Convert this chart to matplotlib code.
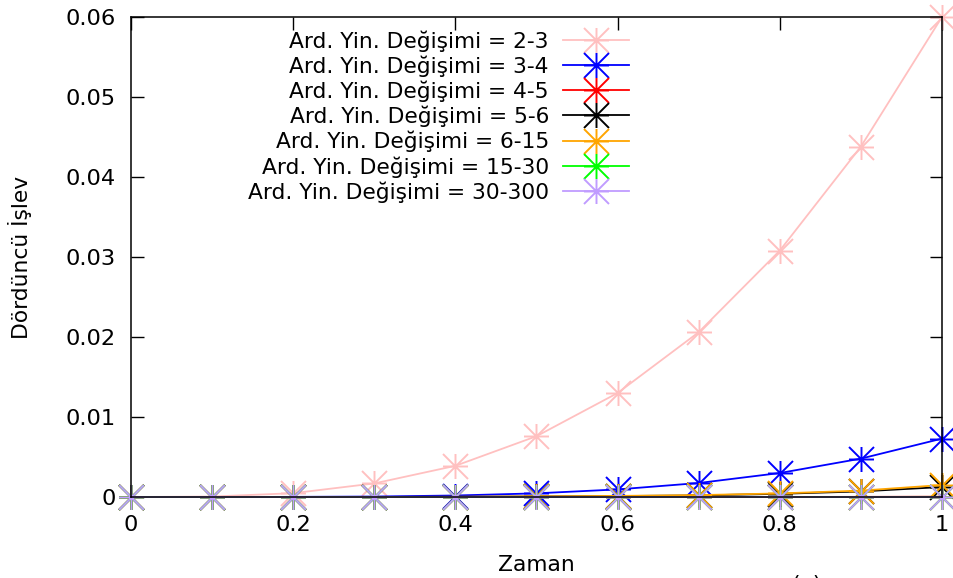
import matplotlib
matplotlib.use("Agg")
import matplotlib.pyplot as plt
from matplotlib.path import Path

# time samples and fourth-function values per reverse flip range
zaman = [0.0, 0.1, 0.2, 0.3, 0.4, 0.5, 0.6, 0.7, 0.8, 0.9, 1.0]
aralik = ["2-3", "3-4", "4-5", "5-6", "6-15", "15-30", "30-300"]

y_2_3 = [0.0, 0.00006, 0.00048, 0.0017, 0.0039, 0.0076, 0.0130, 0.0206, 0.0308, 0.0438, 0.0600]
y_3_4 = [0.0, 0.0, 0.00002, 0.00006, 0.00019, 0.00046, 0.00095, 0.00175, 0.0030, 0.0048, 0.0073]
y_4_5 = [0.0, 0.0, 0.0, 0.0, 0.0, 0.0, 0.0, 0.0, 0.00001, 0.00002, 0.00004]
y_5_6 = [0.0, 0.0, 0.0, 0.00001, 0.00003, 0.00007, 0.00012, 0.0002, 0.0004, 0.0007, 0.00125]
y_6_15 = [0.0, 0.0, 0.0, 0.00001, 0.00003, 0.00008, 0.00014, 0.00024, 0.00045, 0.0008, 0.0015]
y_15_30 = [0.0, 0.0, 0.0, 0.0, 0.0, 0.0, 0.0, 0.0, 0.0, 0.00001, 0.00002]
y_30_300 = [0.0] * 11

seriler = [y_2_3, y_3_4, y_4_5, y_5_6, y_6_15, y_15_30, y_30_300]
renkler = ["#ffc0c0", "#0000ff", "#ff0000", "#000000", "#ffa500", "#00ff00", "#c09cff"]

x_ticks = [0, 0.2, 0.4, 0.6, 0.8, 1]
x_labels = ["0", "0.2", "0.4", "0.6", "0.8", "1"]
y_ticks = [0, 0.01, 0.02, 0.03, 0.04, 0.05, 0.06]
y_labels = ["0", "0.01", "0.02", "0.03", "0.04", "0.05", "0.06"]

# gnuplot style asterisk: plus and cross combined
yildiz = Path(
    [(-1, 0), (1, 0), (0, -1), (0, 1), (-1, -1), (1, 1), (-1, 1), (1, -1)],
    [Path.MOVETO, Path.LINETO] * 4,
)

plt.rcParams["font.family"] = "DejaVu Sans"
fs = 15.7
fs_tick = 16.2

fig = plt.figure(figsize=(9.54, 5.78), dpi=100)
ax = fig.add_axes([0.1373, 0.1401, 0.8501, 0.8305])

for y, renk, ad in zip(seriler, renkler, aralik):
    ax.plot(zaman, y, color=renk, lw=1.3, marker=yildiz, ms=18, mew=1.4,
            label="Ard. Yin. Değişimi = " + ad, clip_on=False)

ax.set_xlim(0, 1)
ax.set_ylim(0, 0.06)
ax.set_xticks(x_ticks)
ax.set_xticklabels(x_labels)
ax.set_yticks(y_ticks)
ax.set_yticklabels(y_labels)
ax.tick_params(direction="in", top=True, right=True, length=9, width=1,
               labelsize=fs_tick, pad=11)
ax.tick_params(axis="x", pad=13)
for s in ax.spines.values():
    s.set_linewidth(1.1)

ax.set_xlabel("Zaman", fontsize=fs, labelpad=14)
ax.set_ylabel("Dördüncü İşlev", fontsize=fs, labelpad=24)

ax.legend(loc="upper right", bbox_to_anchor=(629 / 954, 1 - 30 / 578),
          bbox_transform=fig.transFigure, frameon=False, markerfirst=False,
          fontsize=fs, handlelength=3.03, handletextpad=0.64,
          labelspacing=0.17, borderpad=0, borderaxespad=0)

fig.text(806 / 954, 1 - 575 / 578, "(a)", ha="center", va="top", fontsize=fs)

fig.savefig("out.png", dpi=100)
